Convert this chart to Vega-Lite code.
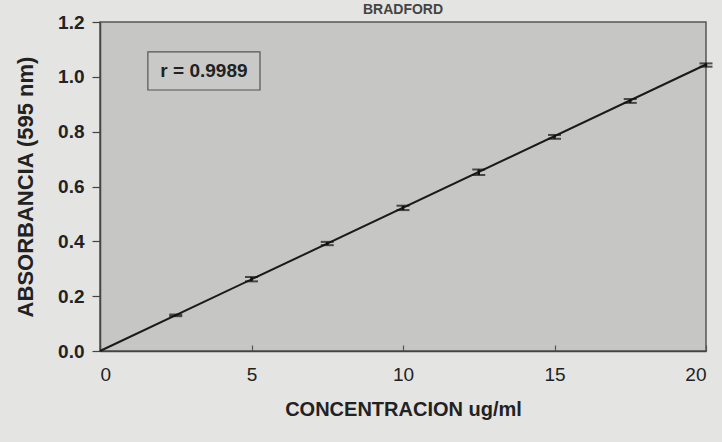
{
  "$schema": "https://vega.github.io/schema/vega-lite/v6.json",
  "width": 606,
  "height": 329,
  "autosize": "none",
  "padding": {"left": 100, "top": 22, "right": 16, "bottom": 91},
  "background": "#e4e4e2",
  "title": {"text": "BRADFORD", "font": "Liberation Sans", "fontSize": 14, "fontWeight": "bold", "color": "#444", "baseline": "top", "offset": -4, "anchor": "middle"},
  "config": {
    "view": {"fill": "#c6c6c4", "stroke": "#555", "strokeWidth": 1.5},
    "font": "Liberation Sans"
  },
  "datasets": {
    "pts": [
      {"c": 2.5, "a": 0.13, "lo": 0.127, "hi": 0.133},
      {"c": 5, "a": 0.262, "lo": 0.254, "hi": 0.27},
      {"c": 7.5, "a": 0.392, "lo": 0.386, "hi": 0.398},
      {"c": 10, "a": 0.522, "lo": 0.514, "hi": 0.53},
      {"c": 12.5, "a": 0.652, "lo": 0.642, "hi": 0.662},
      {"c": 15, "a": 0.781, "lo": 0.774, "hi": 0.788},
      {"c": 17.5, "a": 0.912, "lo": 0.905, "hi": 0.919},
      {"c": 20, "a": 1.043, "lo": 1.037, "hi": 1.049}
    ],
    "fit": [
      {"c": 0, "a": 0.0},
      {"c": 20, "a": 1.045}
    ],
    "box": [
      {"x1": 1.58, "x2": 5.28, "y1": 0.952, "y2": 1.091, "tx": 3.43, "ty": 1.022, "label": "r = 0.9989"}
    ]
  },
  "layer": [
    {
      "data": {"name": "box"},
      "mark": {"type": "rect", "fill": "#c9c9c7", "stroke": "#555", "strokeWidth": 1.2},
      "encoding": {
        "x": {"field": "x1", "type": "quantitative", "scale": {"domain": [0, 20]}},
        "x2": {"field": "x2"},
        "y": {"field": "y1", "type": "quantitative", "scale": {"domain": [0, 1.2]}},
        "y2": {"field": "y2"}
      }
    },
    {
      "data": {"name": "box"},
      "mark": {"type": "text", "font": "Liberation Sans", "fontSize": 19, "fontWeight": "bold", "color": "#222", "align": "center", "baseline": "middle"},
      "encoding": {
        "x": {"field": "tx", "type": "quantitative"},
        "y": {"field": "ty", "type": "quantitative"},
        "text": {"field": "label"}
      }
    },
    {
      "data": {"name": "fit"},
      "mark": {"type": "line", "color": "#1a1a1a", "strokeWidth": 2},
      "encoding": {
        "x": {"field": "c", "type": "quantitative"},
        "y": {"field": "a", "type": "quantitative"}
      }
    },
    {
      "data": {"name": "pts"},
      "mark": {"type": "errorbar", "ticks": {"size": 13, "color": "#111", "thickness": 2}, "color": "#111", "thickness": 2.5},
      "encoding": {
        "x": {"field": "c", "type": "quantitative",
          "scale": {"domain": [0, 20]},
          "axis": {"values": [0, 5, 10, 15, 20], "grid": false, "title": "CONCENTRACION ug/ml",
            "titleFont": "Liberation Sans", "titleFontSize": 20, "titleFontWeight": "bold", "titleColor": "#222", "titlePadding": 15,
            "labelFont": "Liberation Sans", "labelFontSize": 19, "labelColor": "#222", "labelPadding": 20,
            "tickSize": -6, "tickColor": "#555", "tickWidth": 1.2, "domainColor": "#444", "domainWidth": 1.5}},
        "y": {"field": "lo", "type": "quantitative",
          "scale": {"domain": [0, 1.2]},
          "axis": {"values": [0, 0.2, 0.4, 0.6, 0.8, 1.0, 1.2], "format": ".1f", "grid": false, "title": "ABSORBANCIA (595 nm)",
            "titleFont": "Liberation Sans", "titleFontSize": 22, "titleFontWeight": "bold", "titleColor": "#222", "titlePadding": 20,
            "labelFont": "Liberation Sans", "labelFontSize": 19, "labelFontWeight": "bold", "labelColor": "#222", "labelPadding": 8,
            "tickSize": 8, "tickColor": "#444", "tickWidth": 1.2, "domainColor": "#444", "domainWidth": 1.5}},
        "y2": {"field": "hi"}
      }
    }
  ]
}
